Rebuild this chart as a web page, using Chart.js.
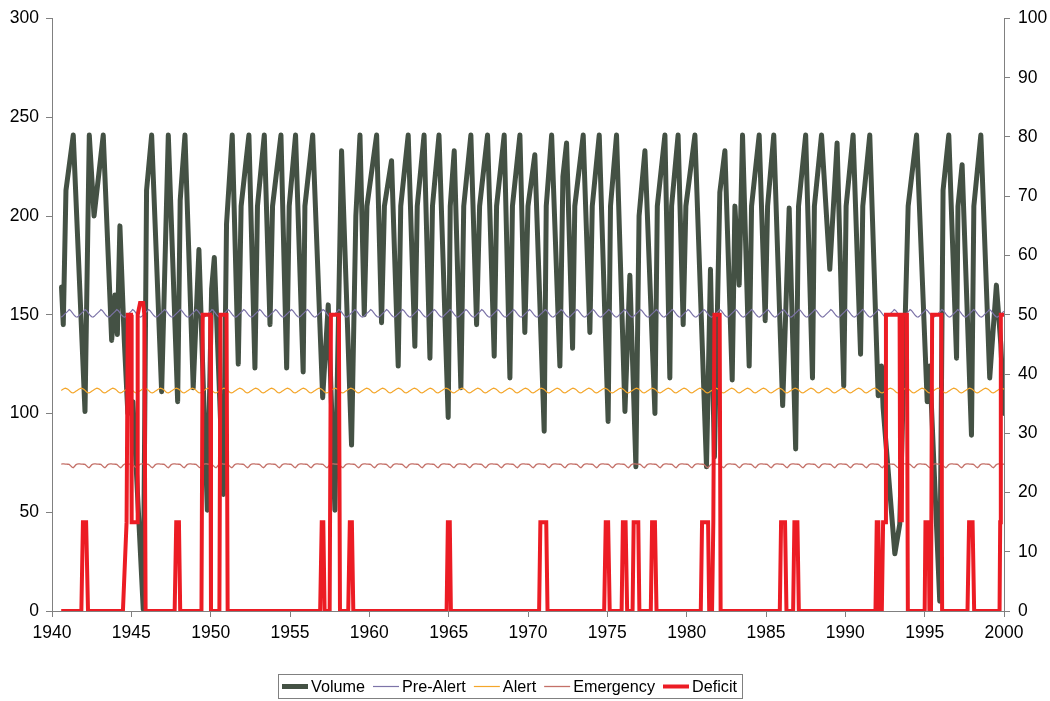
<!DOCTYPE html>
<html>
<head>
<meta charset="utf-8">
<script src="https://cdn.jsdelivr.net/npm/chart.js@4.4.1/dist/chart.umd.min.js"></script>
<style>
  html, body { margin: 0; padding: 0; background: #ffffff; overflow: hidden; }
  #wrap { width: 1050px; height: 701px; }
</style>
</head>
<body>
<div id="wrap"><canvas id="c" width="1050" height="701"></canvas></div>
<script>
// Reservoir volume (left axis), vertices by decimal year
const volumeYears = [
  1940.60, 1940.71, 1940.88, 1941.34, 1942.08, 1942.35, 1942.65, 1943.23, 1943.76, 1943.97,
  1944.12, 1944.28, 1944.55, 1944.78, 1945.00, 1945.10, 1945.75, 1945.96, 1946.28, 1946.91,
  1947.33, 1947.92, 1948.08, 1948.38, 1948.90, 1949.26, 1949.79, 1950.06, 1950.23, 1950.80,
  1951.00, 1951.36, 1951.74, 1951.92, 1952.41, 1952.79, 1952.95, 1953.38, 1953.74, 1953.90,
  1954.43, 1954.79, 1954.95, 1955.35, 1955.83, 1955.94, 1956.43, 1957.06, 1957.41, 1957.83,
  1958.25, 1958.88, 1959.15, 1959.41, 1959.68, 1959.85, 1960.46, 1960.77, 1960.95, 1961.40,
  1961.82, 1961.98, 1962.45, 1962.87, 1963.02, 1963.45, 1963.82, 1963.98, 1964.39, 1964.97,
  1965.10, 1965.35, 1965.77, 1965.95, 1966.40, 1966.76, 1966.95, 1967.45, 1967.87, 1968.02,
  1968.50, 1968.86, 1969.02, 1969.49, 1969.80, 1970.00, 1970.43, 1971.02, 1971.15, 1971.49,
  1972.01, 1972.20, 1972.43, 1972.81, 1972.95, 1973.48, 1973.90, 1974.05, 1974.49, 1975.05,
  1975.20, 1975.58, 1976.11, 1976.42, 1976.80, 1977.00, 1977.37, 1978.00, 1978.15, 1978.63,
  1978.94, 1979.05, 1979.46, 1979.78, 1979.95, 1980.52, 1981.25, 1981.50, 1981.75, 1982.09,
  1982.41, 1982.87, 1983.04, 1983.31, 1983.52, 1983.94, 1984.09, 1984.57, 1984.95, 1985.10,
  1985.49, 1986.05, 1986.46, 1986.87, 1987.05, 1987.50, 1987.93, 1988.05, 1988.50, 1989.02,
  1989.48, 1989.90, 1990.05, 1990.49, 1990.96, 1991.10, 1991.54, 1992.07, 1992.28, 1992.38,
  1993.12, 1993.43, 1993.96, 1994.49, 1995.16, 1995.32, 1995.95, 1996.16, 1996.52, 1997.01,
  1997.10, 1997.36, 1997.95, 1998.10, 1998.54, 1999.10, 1999.52, 1999.80, 2000.00
];
const volumeValues = [
  164, 145, 213, 241, 101, 241, 200, 241, 137, 160,
  140, 195, 138, 100, 101, 106, 1, 213, 241, 111,
  241, 106, 208, 241, 113, 183, 51, 163, 179, 59,
  196, 241, 125, 205, 241, 123, 205, 241, 145, 205,
  241, 123, 205, 241, 121, 205, 241, 108, 155, 51,
  233, 84, 200, 241, 150, 205, 241, 146, 205, 228,
  124, 205, 241, 134, 205, 241, 128, 205, 241, 98,
  205, 233, 113, 205, 241, 145, 205, 241, 129, 205,
  241, 118, 205, 241, 141, 205, 231, 91, 205, 241,
  124, 220, 237, 133, 205, 241, 141, 205, 241, 96,
  205, 241, 101, 170, 73, 200, 233, 100, 205, 241,
  118, 205, 241, 145, 205, 241, 73, 173, 78, 212,
  233, 117, 205, 165, 241, 124, 205, 241, 147, 205,
  241, 104, 204, 82, 205, 241, 118, 205, 241, 173,
  237, 114, 205, 241, 130, 205, 241, 109, 124, 103,
  29, 44, 205, 241, 106, 124, 5, 213, 241, 128,
  205, 226, 89, 205, 241, 118, 165, 135, 100
];

// Supply deficit (right axis), vertices by decimal year
const deficitYears = [
  1940.58, 1941.85, 1941.95, 1942.15, 1942.27, 1944.47, 1944.70, 1944.78, 1944.98, 1945.02,
  1945.36, 1945.40, 1945.55, 1945.75, 1945.82, 1945.90, 1947.73, 1947.83, 1948.00, 1948.08,
  1949.42, 1949.50, 1949.97, 1950.02, 1950.55, 1950.62, 1951.00, 1951.07, 1956.90, 1957.00,
  1957.10, 1957.18, 1957.50, 1957.58, 1958.08, 1958.15, 1958.67, 1958.77, 1958.90, 1958.99,
  1964.87, 1964.95, 1965.07, 1965.14, 1970.70, 1970.78, 1971.15, 1971.23, 1974.80, 1974.90,
  1975.05, 1975.15, 1975.90, 1975.98, 1976.15, 1976.25, 1976.59, 1976.66, 1976.95, 1977.02,
  1977.74, 1977.82, 1978.00, 1978.10, 1980.89, 1980.97, 1981.35, 1981.42, 1981.60, 1981.68,
  1981.75, 1982.08, 1982.14, 1985.87, 1985.95, 1986.20, 1986.29, 1986.71, 1986.79, 1986.98,
  1987.07, 1991.90, 1991.98, 1992.08, 1992.15, 1992.30, 1992.38, 1992.50, 1992.56, 1993.42,
  1993.46, 1993.52, 1993.56, 1993.62, 1993.88, 1993.94, 1995.00, 1995.05, 1995.25, 1995.30,
  1995.40, 1995.47, 1996.05, 1996.10, 1997.70, 1997.80, 1998.02, 1998.12, 1999.72, 1999.76,
  1999.80, 2000.00
];
const deficitValues = [
  0, 0, 15, 15, 0, 0, 15, 50, 50, 15,
  15, 50, 52, 52, 50, 0, 0, 15, 15, 0,
  0, 50, 50, 0, 0, 50, 50, 0, 0, 15,
  15, 0, 0, 50, 50, 0, 0, 15, 15, 0,
  0, 15, 15, 0, 0, 15, 15, 0, 0, 15,
  15, 0, 0, 15, 15, 0, 0, 15, 15, 0,
  0, 15, 15, 0, 0, 15, 15, 0, 0, 15,
  50, 50, 0, 0, 15, 15, 0, 0, 15, 15,
  0, 0, 15, 15, 0, 0, 15, 15, 50, 50,
  15, 50, 15, 50, 50, 0, 0, 15, 15, 0,
  0, 50, 50, 0, 0, 15, 15, 0, 0, 15,
  50, 50
];

// Rule-curve trigger levels by calendar month (Jan..Dec), repeated every year
const preAlertByMonth  = [151.8, 152.6, 152.2, 151.3, 150.4, 149.6, 149.0, 148.8, 149.2, 149.9, 150.6, 151.2];
const alertByMonth     = [112.3, 111.7, 111.0, 110.5, 110.4, 110.8, 111.3, 111.7, 112.1, 112.5, 112.8, 112.6];
const emergencyByMonth = [74.3, 74.2, 73.6, 72.9, 72.6, 73.2, 74.0, 74.4, 74.5, 74.5, 74.4, 74.4];
const ruleFirstYear = 1940, ruleFirstMonth = 7;   // August 1940
const ruleLastYear = 2000, ruleLastMonth = 0;     // January 2000

const FONT = '"Liberation Sans", Arial, sans-serif';

function pairs(xs, ys) {
  return xs.map((x, i) => ({ x: x, y: ys[i] }));
}

function monthlyRule(levels) {
  const pts = [];
  let y = ruleFirstYear, m = ruleFirstMonth;
  while (y < ruleLastYear || (y === ruleLastYear && m <= ruleLastMonth)) {
    pts.push({ x: y + m / 12, y: levels[m] });
    m++;
    if (m === 12) { m = 0; y++; }
  }
  return pts;
}

// Framed legend row under the plot
const framedLegend = {
  id: 'framedLegend',
  afterDraw(chart) {
    const ctx = chart.ctx;
    const ds = chart.data.datasets;
    const lineLen = 26, gap = 3, space = 8;
    const cx = 509.5, cy = 686.5;
    ctx.save();
    ctx.font = '16.2px ' + FONT;
    const widths = ds.map(d => ctx.measureText(d.label).width);
    let total = 0;
    ds.forEach((d, i) => {
      total += lineLen + gap + widths[i];
      if (i < ds.length - 1) total += space;
    });
    let x = cx - total / 2;
    ctx.strokeStyle = '#808080';
    ctx.lineWidth = 1;
    ctx.strokeRect(Math.round(x - 4) + 0.5, 674.5, Math.round(total + 9), 24);
    ds.forEach((d, i) => {
      ctx.beginPath();
      ctx.strokeStyle = d.borderColor;
      ctx.lineWidth = d.borderWidth;
      ctx.lineCap = 'butt';
      ctx.moveTo(x, cy);
      ctx.lineTo(x + lineLen, cy);
      ctx.stroke();
      ctx.fillStyle = '#000000';
      ctx.textBaseline = 'middle';
      ctx.textAlign = 'left';
      ctx.fillText(d.label, x + lineLen + gap, cy + 1);
      x += lineLen + gap + widths[i] + space;
    });
    ctx.restore();
  }
};

const axisGrid = { drawOnChartArea: false, drawTicks: true, tickLength: 6, color: '#808080' };
const axisBorder = { color: '#808080', width: 1 };
const tickFont = { family: FONT, size: 17.5 };

new Chart(document.getElementById('c'), {
  type: 'line',
  data: {
    datasets: [
      { label: 'Volume', data: pairs(volumeYears, volumeValues), yAxisID: 'y',
        borderColor: '#445144', borderWidth: 5, borderJoinStyle: 'round', borderCapStyle: 'round',
        pointRadius: 0, tension: 0, order: 5 },
      { label: 'Pre-Alert', data: monthlyRule(preAlertByMonth), yAxisID: 'y',
        borderColor: '#7D74A8', borderWidth: 1.2, pointRadius: 0, tension: 0, order: 4 },
      { label: 'Alert', data: monthlyRule(alertByMonth), yAxisID: 'y',
        borderColor: '#F4A62A', borderWidth: 1.2, pointRadius: 0, tension: 0, order: 3 },
      { label: 'Emergency', data: monthlyRule(emergencyByMonth), yAxisID: 'y',
        borderColor: '#C47068', borderWidth: 1.3, pointRadius: 0, tension: 0, order: 2 },
      { label: 'Deficit', data: pairs(deficitYears, deficitValues), yAxisID: 'y2',
        borderColor: '#EC1C24', borderWidth: 4, borderJoinStyle: 'miter',
        pointRadius: 0, tension: 0, order: 1 }
    ]
  },
  options: {
    responsive: false,
    animation: false,
    events: [],
    layout: { padding: { top: 14, left: 0, right: 0, bottom: 0 } },
    plugins: { legend: { display: false }, tooltip: { enabled: false } },
    scales: {
      x: {
        type: 'linear', position: 'bottom', min: 1940, max: 2000,
        ticks: { stepSize: 5, autoSkip: false, maxRotation: 0, color: '#000000', font: tickFont,
                 padding: 6, callback: v => String(v) },
        grid: axisGrid, border: axisBorder,
        afterFit(s) { s.height = 90; }
      },
      y: {
        position: 'left', min: 0, max: 300,
        ticks: { stepSize: 50, color: '#000000', font: tickFont, padding: 7 },
        grid: axisGrid, border: axisBorder,
        afterFit(s) { s.width = 52; }
      },
      y2: {
        position: 'right', min: 0, max: 100,
        ticks: { stepSize: 10, color: '#000000', font: tickFont, padding: 8 },
        grid: axisGrid, border: axisBorder,
        afterFit(s) { s.width = 46; }
      }
    }
  },
  plugins: [framedLegend]
});
</script>
</body>
</html>
